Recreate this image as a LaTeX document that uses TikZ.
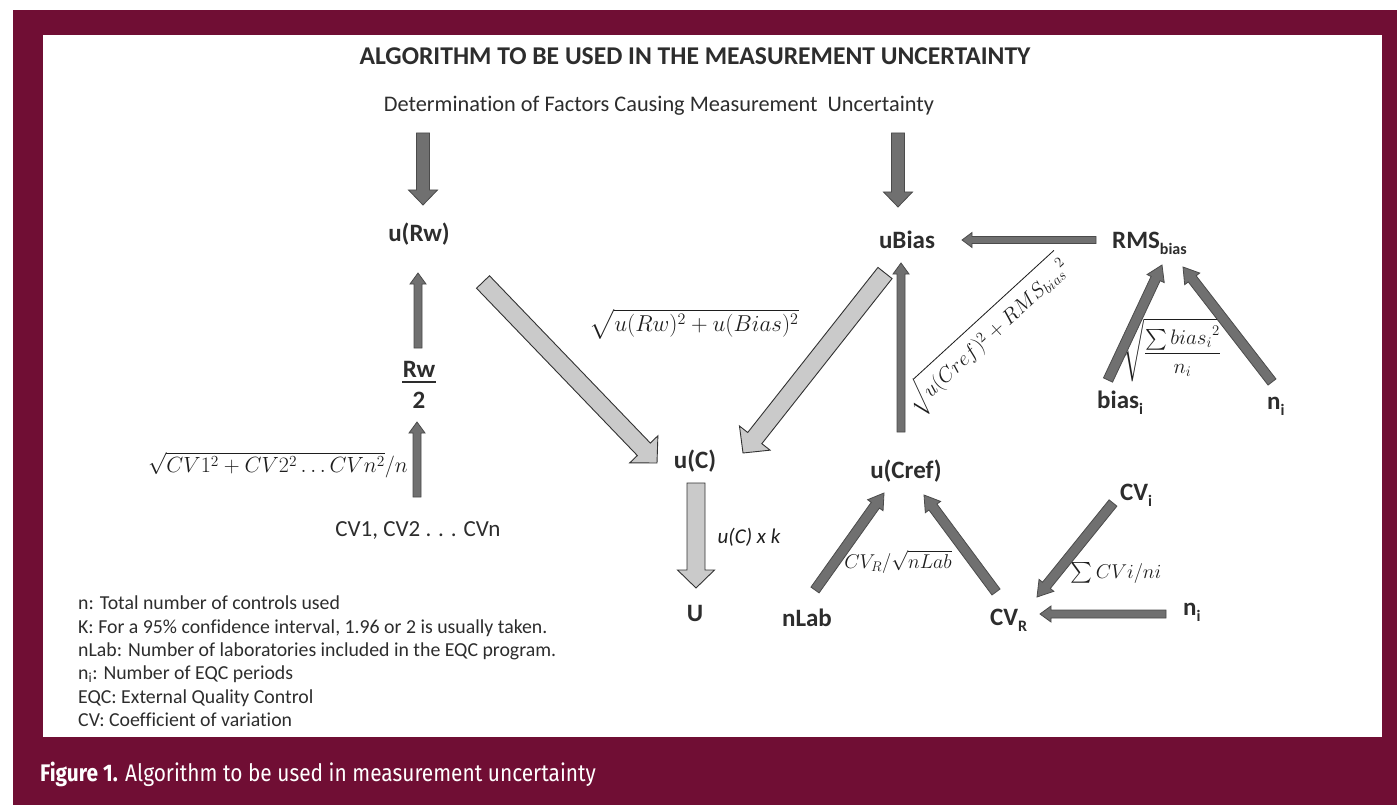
\RequirePackage{fix-cm}
\documentclass[tikz,border=0pt]{standalone}
\usepackage{exscale}
\usepackage{fontspec}
\setmainfont{Carlito}[Ligatures=NoCommon]
\newfontfamily\capfont[FakeStretch=0.87]{Fira Sans}
\usetikzlibrary{calc}
\definecolor{maroonbg}{RGB}{112,14,52}
\definecolor{txt}{RGB}{45,45,45}
\definecolor{mtxt}{RGB}{30,30,30}
\definecolor{darkfill}{RGB}{112,112,112}
\definecolor{darkline}{RGB}{75,75,75}
\definecolor{lightfill}{RGB}{202,202,202}
\definecolor{lightline}{RGB}{50,50,50}
\newcommand\subx[1]{\raisebox{-6pt}{\fontsize{16}{16}\selectfont #1}}
% block arrow: style, start, end, half shaft, half head, head length
\newcommand\blockarrow[6]{%
  \coordinate (ba-s) at #2;
  \coordinate (ba-e) at #3;
  \coordinate (ba-b) at ($(ba-e)!#6!(ba-s)$);
  \filldraw[#1] ($(ba-s)!#4!90:(ba-e)$) -- ($(ba-b)!#4!-90:(ba-s)$) -- ($(ba-b)!#5!-90:(ba-s)$)
     -- (ba-e) -- ($(ba-b)!#5!90:(ba-s)$) -- ($(ba-b)!#4!90:(ba-s)$) -- ($(ba-s)!#4!-90:(ba-e)$) -- cycle;
}
\tikzset{
  lbl/.style={font=\fontsize{25}{30}\selectfont\bfseries, text=txt, inner sep=0pt},
  mlbl/.style={font=\fontsize{21}{25}\selectfont, text=mtxt, inner sep=0pt},
  darkarr/.style={fill=darkfill, draw=darkline, line width=0.8pt, line join=miter},
  lightarr/.style={fill=lightfill, draw=lightline, line width=0.9pt, line join=miter},
}
\begin{document}
\begin{tikzpicture}[x=1pt, y=-1pt]
\useasboundingbox (0,0) rectangle (1397,805);
\fill[white] (0,0) rectangle (1397,805);
\fill[maroonbg] (13,10) rectangle (1397,805);
\fill[white] (43,35) rectangle (1382,737);

% titles
\node[anchor=base, inner sep=0, text=txt, font=\fontsize{25.6}{30}\selectfont\bfseries] (title) at (695,65)
  {ALGORITHM TO BE USED IN THE MEASUREMENT UNCERTAINTY};
\node[anchor=base, inner sep=0, text=txt, font=\fontsize{22.3}{26}\selectfont] (det) at (659,112)
  {Determination of Factors Causing Measurement\ \ Uncertainty};

% main nodes
\node[lbl, anchor=base] (uRw) at (419,241) {u(Rw)};
\node[lbl, anchor=base] (Rw2) at (419,408)
  {\vbox{\hbox to 34pt{\hss Rw\hss}\kern 3pt\hrule height 1.8pt\kern 9pt\hbox to 34pt{\hss 2\hss}}};
\node[anchor=base, inner sep=0, text=txt, font=\fontsize{23}{28}\selectfont] (CV1) at (418,536) {CV1, CV2 . . . CVn};
\node[lbl, anchor=base] (uC) at (695,468) {u(C)};
\node[lbl, anchor=base] (U) at (695,621) {U};
\node[lbl, anchor=base] (uBias) at (907,248) {uBias};
\node[lbl, anchor=base west] (RMS) at (1112,248) {RMS\subx{bias}};
\node[lbl, anchor=base west] (biasi) at (1097,408) {bias\subx{i}};
\node[lbl, anchor=base west] (ni1) at (1267,409) {n\subx{i}};
\node[lbl, anchor=base] (uCref) at (906,478) {u(Cref)};
\node[lbl, anchor=base] (nLab) at (807,626) {nLab};
\node[lbl, anchor=base west] (CVR) at (990,625) {CV\subx{R}};
\node[lbl, anchor=base west] (CVi) at (1120,500) {CV\subx{i}};
\node[lbl, anchor=base west] (ni2) at (1183,615) {n\subx{i}};

% formula labels
\node[mlbl, font=\fontsize{22}{26}\selectfont] (lCV) at (278,465) {$\sqrt{CV1^2+CV2^2\ldots CVn^2}/n$};
\node[mlbl, font=\fontsize{23}{28}\selectfont] (lC) at (694,324) {$\sqrt{u(Rw)^2+u(Bias)^2}$};
\node[mlbl, font=\fontsize{21}{25}\selectfont\itshape] (lk) at (749,537) {u(C) x k};
\node[mlbl, font=\fontsize{21}{26}\selectfont, rotate=42.5] (lrot) at (988,335) {$\sqrt{u(Cref)^2+{RMS_{bias}}^2}$};
\node[mlbl, font=\fontsize{21}{25}\selectfont] (lbias) at (1172,350) {$\sqrt{\displaystyle\frac{\sum {bias_i}^2}{n_i}}$};
\node[mlbl, font=\fontsize{20}{24}\selectfont] (lnlab) at (898,562) {$CV_R/\sqrt{nLab}$};
\node[mlbl, font=\fontsize{20}{24}\selectfont] (lsum) at (1116,573) {$\sum CVi/ni$};

% arrows
\blockarrow{darkarr}{($(det.base)+(-236,21)$)}{($(uRw.base)+(4,-36)$)}{6.5pt}{14.5pt}{15pt}
\blockarrow{darkarr}{($(det.base)+(239,21)$)}{($(uBias.base)+(-9,-41)$)}{6.5pt}{14.5pt}{15pt}
\blockarrow{darkarr}{($(Rw2.base)+(-1,-60)$)}{($(uRw.base)+(-1,32)$)}{4pt}{8pt}{11pt}
\blockarrow{darkarr}{($(CV1.base)+(-1,-39)$)}{($(Rw2.base)+(-2,14)$)}{4pt}{8pt}{11pt}
\blockarrow{lightarr}{($(uRw.base)+(64,41)$)}{($(uC.base)+(-38,-5)$)}{9pt}{19.5pt}{19pt}
\blockarrow{lightarr}{($(uBias.base)+(-22,25)$)}{($(uC.base)+(48,-15)$)}{9pt}{19.5pt}{19pt}
\blockarrow{lightarr}{($(uC.base)+(1,15)$)}{($(U.base)+(1,-33)$)}{9pt}{18.5pt}{18pt}
\blockarrow{darkarr}{($(RMS.base west)+(-16,-8)$)}{($(uBias.base)+(55,-8)$)}{3.5pt}{7.5pt}{10pt}
\blockarrow{darkarr}{($(uCref.base)+(-5,-46)$)}{($(uBias.base)+(-6,15)$)}{4pt}{8pt}{11pt}
\blockarrow{darkarr}{($(biasi.base west)+(11,-28)$)}{($(RMS.base west)+(50,17)$)}{5pt}{9.5pt}{15pt}
\blockarrow{darkarr}{($(ni1.base west)+(5,-27)$)}{($(RMS.base west)+(71,19)$)}{5pt}{9.5pt}{15pt}
\blockarrow{darkarr}{($(nLab.base)+(8,-36)$)}{($(uCref.base)+(-22,15)$)}{5pt}{9.5pt}{15pt}
\blockarrow{darkarr}{($(CVR.base west)+(6,-33)$)}{($(uCref.base)+(18,17)$)}{5pt}{9.5pt}{15pt}
\blockarrow{darkarr}{($(CVi.base west)+(-7,3)$)}{($(CVR.base west)+(47,-28)$)}{5pt}{9.5pt}{15pt}
\blockarrow{darkarr}{($(ni2.base west)+(-17,-1)$)}{($(CVR.base west)+(50,-11)$)}{4pt}{8pt}{11pt}

% legend
\node[anchor=north west, inner sep=0, align=left, text=txt, font=\fontsize{19.8}{23.3}\selectfont] (legend) at (78,596)
  {n: Total number of controls used\\
   K: For a 95\% confidence interval, 1.96 or 2 is usually taken.\\
   nLab: Number of laboratories included in the EQC program.\\
   n\textsubscript{i}: Number of EQC periods\\
   EQC: External Quality Control\\
   CV: Coefficient of variation};

% caption
\node[anchor=base west, inner sep=0, text=white, font=\fontsize{24}{28}\capfont] (caption) at (40,781)
  {\textbf{Figure 1.} Algorithm to be used in measurement uncertainty};
\end{tikzpicture}
\end{document}
